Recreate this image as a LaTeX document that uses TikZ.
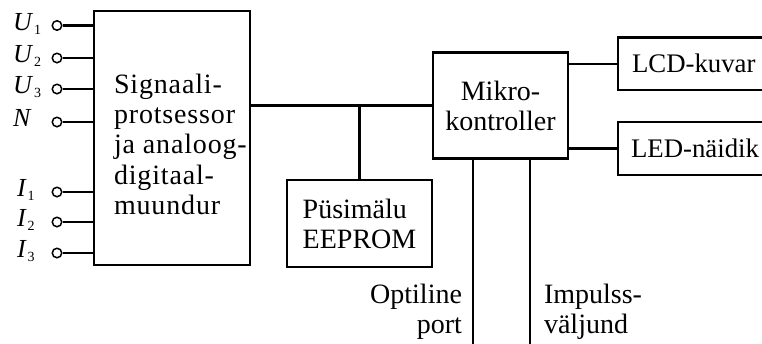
\documentclass[tikz,border=0pt]{standalone}
\usepackage{fontspec}
\setmainfont{Liberation Serif}
\begin{document}
\begin{tikzpicture}[x=1pt,y=-1pt,line width=2.1pt,
  box/.style={draw,line width=2.1pt,inner sep=0pt},
  txt/.style={font=\fontsize{28}{30}\selectfont,inner sep=0pt},
  sidetxt/.style={font=\fontsize{26.8}{30}\selectfont,inner sep=0pt,anchor=west},
  term/.style={circle,draw,fill=white,line width=1.5pt,minimum size=9.5pt,inner sep=0pt},
  inlbl/.style={font=\fontsize{26}{26}\selectfont,anchor=base west,inner sep=0pt}]
\newcommand{\sig}[2]{\textit{#1}\kern1pt\raisebox{-4pt}{\fontsize{14}{14}\selectfont #2}}
\useasboundingbox (0,0) rectangle (762,343);
\clip (0,0) rectangle (762,343);

% blocks
\node[box,minimum width=156pt,minimum height=254pt] (sp) at (172,138) {};
\node[box,minimum width=135pt,minimum height=106pt] (mc) at (500.5,105.5) {};
\node[box,minimum width=145pt,minimum height=87pt] (ee) at (359.5,223.5) {};
\node[box,minimum width=172pt,minimum height=52.5pt] (lcd) at (704,63.75) {};
\node[box,minimum width=172pt,minimum height=53pt] (led) at (704,148.5) {};

% block texts
\node[txt,font=\fontsize{28}{30.3}\selectfont\addfontfeature{LetterSpace=3},
  align=left,anchor=north west] (sptext) at (113,72.8)
  {Signaali-\\protsessor\\ja analoog-\\digitaal-\\muundur};
\node[txt,align=center] (mctext) at (mc.center) {Mikro-\\kontroller};
\node[txt,align=left] (eetext) at (ee.center) {Püsimälu\\EEPROM};
\node[sidetxt] (lcdtext) at ([xshift=14pt]lcd.west) {LCD-kuvar};
\node[sidetxt] (ledtext) at ([xshift=13pt]led.west) {LED-näidik};

% bus and links
\coordinate (j) at (ee.north |- mc.west);
\draw (sp.east |- mc.west) -- (mc.west);
\draw (j) -- (ee.north);
\draw (mc.east |- lcd.west) -- (lcd.west);
\draw (mc.east |- led.west) -- (led.west);

% outputs at the bottom
\coordinate (opt) at (473,345);
\coordinate (imp) at (530,345);
\draw (mc.south -| opt) -- (opt);
\draw (mc.south -| imp) -- (imp);
\node[txt,align=right,anchor=south east] (opttext) at (463,341) {Optiline\\port};
\node[txt,align=left,anchor=south west] (imptext) at (543,341) {Impulss-\\väljund};

% input terminals
\foreach \n/\y in {u1/25.5,u2/58,u3/89,n/122,i1/192,i2/222,i3/253}{
  \node[term] (t\n) at (57,\y) {};
  \draw (t\n.east) -- (t\n -| sp.west);
}
\node[inlbl] (lu1) at (12,30) {\sig{U}{1}};
\node[inlbl] (lu2) at (12,62) {\sig{U}{2}};
\node[inlbl] (lu3) at (12,93) {\sig{U}{3}};
\node[inlbl] (ln)  at (12,126) {\textit{N}};
\node[inlbl] (li1) at (16,196) {\sig{I}{1}};
\node[inlbl] (li2) at (16,226) {\sig{I}{2}};
\node[inlbl] (li3) at (16,257) {\sig{I}{3}};
\end{tikzpicture}
\end{document}
